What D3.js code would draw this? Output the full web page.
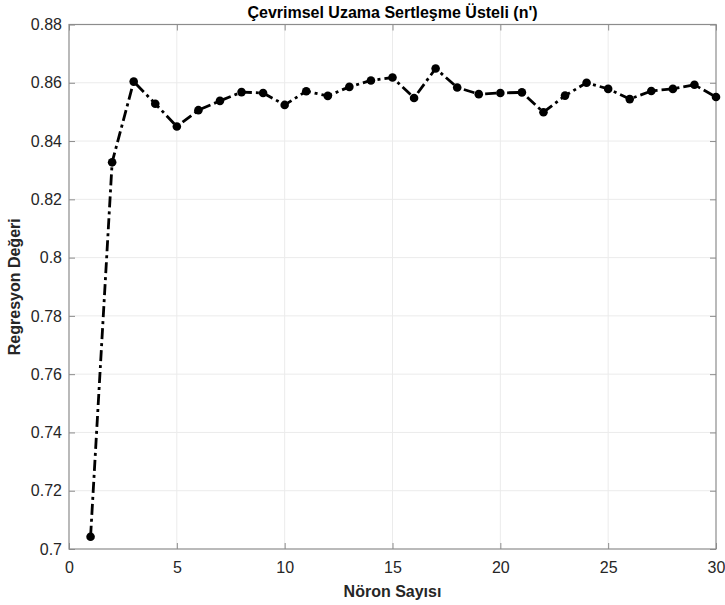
<!DOCTYPE html>
<html lang="tr">
  <head>
    <meta charset="UTF-8" />
    <script src="https://d3js.org/d3.v7.min.js"></script>
    <title>Çevrimsel Uzama Sertleşme Üsteli</title>
    <style>
      body { margin: 0; background: #fff; }
      text { font-family: "Liberation Sans", Arial, sans-serif; }
    </style>
  </head>
  <body>
    <svg id="chart" width="725" height="605"></svg>

    <script>
      // neuron counts and regression values
      const neurons = d3.range(1, 31);
      const regression = [
        0.7042, 0.8327, 0.8604, 0.8528, 0.845, 0.8506, 0.8538, 0.8568, 0.8565, 0.8524,
        0.8571, 0.8555, 0.8586, 0.8608, 0.8618, 0.8548, 0.8649, 0.8584, 0.8561, 0.8565,
        0.8567, 0.8499, 0.8556, 0.86, 0.8579, 0.8544, 0.8572, 0.8579, 0.8593, 0.8551
      ];
      const xTicks = [0, 5, 10, 15, 20, 25, 30];
      const yTicks = [0.7, 0.72, 0.74, 0.76, 0.78, 0.8, 0.82, 0.84, 0.86, 0.88];

      const svg = d3.select("#chart");
      const margin = { top: 24.5, right: 9, bottom: 56, left: 69 };
      const width = +svg.attr("width") - margin.left - margin.right;
      const height = +svg.attr("height") - margin.top - margin.bottom;

      const g = svg.append("g").attr("transform", `translate(${margin.left},${margin.top})`);

      const x = d3.scaleLinear().domain([0, 30]).range([0, width]);
      const y = d3.scaleLinear().domain([0.7, 0.88]).range([height, 0]);

      // grid
      g.append("g")
        .selectAll("line")
        .data(xTicks.slice(1, -1))
        .join("line")
        .attr("x1", d => x(d)).attr("x2", d => x(d))
        .attr("y1", 0).attr("y2", height)
        .attr("stroke", "#ebebeb");
      g.append("g")
        .selectAll("line")
        .data(yTicks.slice(1, -1))
        .join("line")
        .attr("y1", d => y(d)).attr("y2", d => y(d))
        .attr("x1", 0).attr("x2", width)
        .attr("stroke", "#ebebeb");

      const tickColor = "#8c8c8c";
      const labelColor = "#262626";

      const styleAxis = sel => {
        sel.select(".domain").remove();
        sel.selectAll(".tick line").attr("stroke", tickColor);
        sel.selectAll(".tick text").attr("fill", labelColor).style("font-size", "16px");
      };

      g.append("g")
        .attr("transform", `translate(0,${height})`)
        .call(d3.axisBottom(x).tickValues(xTicks).tickSizeInner(-6).tickSizeOuter(0).tickPadding(13))
        .call(styleAxis);
      g.append("g")
        .call(d3.axisTop(x).tickValues(xTicks).tickSizeInner(-6).tickSizeOuter(0).tickFormat(""))
        .call(styleAxis);
      g.append("g")
        .call(d3.axisLeft(y).tickValues(yTicks).tickSizeInner(-6).tickSizeOuter(0).tickPadding(7).tickFormat(d3.format("~g")))
        .call(styleAxis);
      g.append("g")
        .attr("transform", `translate(${width},0)`)
        .call(d3.axisRight(y).tickValues(yTicks).tickSizeInner(-6).tickSizeOuter(0).tickFormat(""))
        .call(styleAxis);

      // box
      g.append("rect")
        .attr("width", width).attr("height", height)
        .attr("fill", "none").attr("stroke", tickColor).attr("stroke-width", 1.2);

      const pts = neurons.map((n, i) => [n, regression[i]]);

      g.append("path")
        .datum(pts)
        .attr("fill", "none")
        .attr("stroke", "#000")
        .attr("stroke-width", 2.8)
        .attr("stroke-dasharray", "11,4,3,4")
        .attr("d", d3.line().x(d => x(d[0])).y(d => y(d[1])));

      g.append("g")
        .selectAll("circle")
        .data(pts)
        .join("circle")
        .attr("cx", d => x(d[0]))
        .attr("cy", d => y(d[1]))
        .attr("r", 4.3)
        .attr("fill", "#000");

      // title and labels
      svg.append("text")
        .attr("x", margin.left + width / 2).attr("y", 18)
        .attr("text-anchor", "middle")
        .attr("font-weight", "bold").attr("font-size", 16)
        .attr("fill", "#000")
        .text("Çevrimsel Uzama Sertleşme Üsteli (n')");

      svg.append("text")
        .attr("x", margin.left + width / 2).attr("y", 597)
        .attr("text-anchor", "middle")
        .attr("font-weight", "bold").attr("font-size", 16)
        .attr("fill", labelColor)
        .text("Nöron Sayısı");

      svg.append("text")
        .attr("transform", `translate(20,${margin.top + height / 2}) rotate(-90)`)
        .attr("text-anchor", "middle")
        .attr("font-weight", "bold").attr("font-size", 16)
        .attr("fill", labelColor)
        .text("Regresyon Değeri");
    </script>
  </body>
</html>
